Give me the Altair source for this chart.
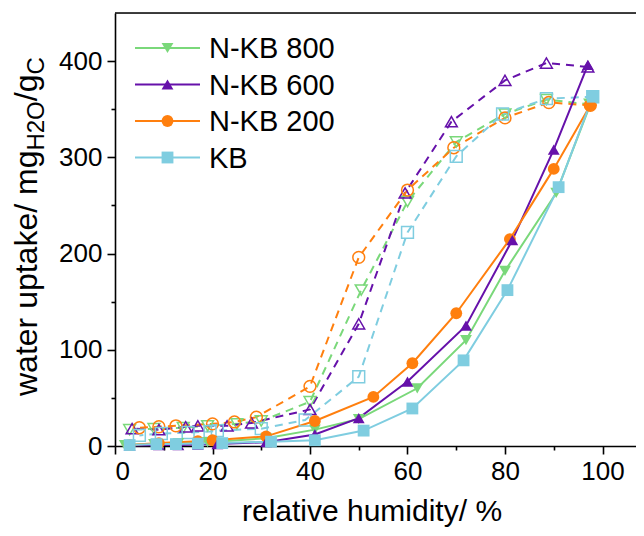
import altair as alt
import pandas as pd

# ---------------- data ----------------
samples = ["N-KB 800", "N-KB 600", "N-KB 200", "KB"]
colors = ["#7ad87a", "#6611aa", "#ff7f0e", "#7fcde0"]
shapes = ["triangle-down", "triangle-up", "circle", "square"]

kb800_ads_rh = [2, 8, 13, 19, 31, 41, 50, 62, 72, 80, 90.5, 97.5]
kb800_ads_up = [1, 2, 3, 4, 8, 17, 28, 60, 110, 182, 263, 355]
kb800_des_rh = [97.5, 88.5, 80, 70, 60, 50.5, 40, 30, 25, 19, 14, 8, 3]
kb800_des_up = [355, 360, 345, 316, 254, 162, 46, 26, 23, 21, 19, 18, 17]

kb600_ads_rh = [3, 9, 13, 17, 21, 31, 41, 50, 60, 72, 81.5, 90, 97]
kb600_ads_up = [0.5, 1, 1, 1.5, 2, 4, 12, 29, 67, 125, 214, 308, 396]
kb600_des_rh = [97, 88.5, 80, 69, 59.5, 50, 40, 28, 23, 17, 14.5, 9, 3.5]
kb600_des_up = [394, 398, 380, 337, 263, 127, 38, 24, 21, 21, 20, 17, 18]

kb200_ads_rh = [3, 9, 17, 20, 31, 41, 53, 61, 70, 81, 90, 97.5]
kb200_ads_up = [1, 3, 5, 6, 10, 26, 51, 86, 138, 215, 288, 354]
kb200_des_rh = [97.5, 89, 80, 69.5, 60, 50, 40, 29, 24.5, 20, 12.5, 9, 5]
kb200_des_up = [354, 357, 341, 310, 266, 196, 62, 30, 25, 23, 21, 20, 19]

kb_ads_rh = [3, 8.5, 12.5, 17, 22, 32, 41, 51, 61, 71.5, 80.5, 91, 98]
kb_ads_up = [1, 2, 2, 2.5, 3, 4.5, 6, 16, 39, 89, 162, 269, 363]
kb_des_rh = [98, 88.5, 79.5, 70, 60, 50, 39, 30, 21, 19.5, 15, 9.5, 5]
kb_des_up = [363, 361, 345, 301, 222, 72, 27, 18, 16, 15, 14, 13, 11]

x_ticks = [0, 10, 20, 30, 40, 50, 60, 70, 80, 90, 100]
y_ticks = [0, 50, 100, 150, 200, 250, 300, 350, 400]

series = {
    "N-KB 800": (kb800_ads_rh, kb800_ads_up, kb800_des_rh, kb800_des_up),
    "N-KB 600": (kb600_ads_rh, kb600_ads_up, kb600_des_rh, kb600_des_up),
    "N-KB 200": (kb200_ads_rh, kb200_ads_up, kb200_des_rh, kb200_des_up),
    "KB": (kb_ads_rh, kb_ads_up, kb_des_rh, kb_des_up),
}

rows = []
for s, (arh, aup, drh, dup) in series.items():
    for i, (x, y) in enumerate(zip(arh, aup)):
        rows.append({"sample": s, "branch": "ads", "rh": x, "up": y, "idx": i})
    for i, (x, y) in enumerate(zip(drh, dup)):
        rows.append({"sample": s, "branch": "des", "rh": x, "up": y, "idx": i})
df = pd.DataFrame(rows)

# ---------------- layout ----------------
W, H = 521, 433
FONT = "Liberation Sans"
PX_PER_X = 4.875
x_max = W / PX_PER_X

xs = alt.Scale(domain=[0, x_max], nice=False, zero=False)
ys = alt.Scale(domain=[0, 450], nice=False, zero=False)
cs = alt.Scale(domain=samples, range=colors)
ss = alt.Scale(domain=samples, range=shapes)

x_axis = alt.Axis(
    values=x_ticks, title=None, grid=False,
    labelExpr="datum.value % 20 === 0 ? datum.label : ''",
    tickSize={"condition": {"test": "datum.value % 20 === 0", "value": 8}, "value": 4},
    labelFontSize=26, labelFont=FONT, labelColor="black", labelPadding=4,
    domainColor="black", domainWidth=1.6, tickColor="black", tickWidth=1.6,
)
y_axis = alt.Axis(
    values=y_ticks, title=None, grid=False,
    labelExpr="datum.value % 100 === 0 ? datum.label : ''",
    tickSize={"condition": {"test": "datum.value % 100 === 0", "value": 8}, "value": 4},
    labelFontSize=26, labelFont=FONT, labelColor="black", labelPadding=5,
    domainColor="black", domainWidth=1.6, tickColor="black", tickWidth=1.6,
)

base = alt.Chart(df).encode(
    x=alt.X("rh:Q", scale=xs, axis=x_axis),
    y=alt.Y("up:Q", scale=ys, axis=y_axis),
    color=alt.Color("sample:N", scale=cs, legend=None),
    order=alt.Order("idx:Q"),
)

lines_des = base.transform_filter("datum.branch === 'des'").mark_line(
    strokeWidth=2, strokeDash=[8, 6]
).encode(detail="sample:N")
lines_ads = base.transform_filter("datum.branch === 'ads'").mark_line(
    strokeWidth=2
).encode(detail="sample:N")
pts_des = base.transform_filter("datum.branch === 'des'").mark_point(
    filled=False, strokeWidth=1.5, opacity=1, size=140
).encode(shape=alt.Shape("sample:N", scale=ss, legend=None))
pts_ads = base.transform_filter("datum.branch === 'ads'").mark_point(
    filled=True, opacity=1, size=140
).encode(shape=alt.Shape("sample:N", scale=ss, legend=None))

# top frame line
top_line = alt.Chart(pd.DataFrame({"a": [0]})).mark_rule(
    color="black", strokeWidth=1.6
).encode(x=alt.value(0), x2=alt.value(W), y=alt.value(0))

# legend (manual, inside plot area)
legend_layers = []
leg_y0, leg_dy = 35, 36.5
for i, s in enumerate(samples):
    yy = leg_y0 + i * leg_dy
    one = pd.DataFrame({"label": [s]})
    legend_layers.append(
        alt.Chart(one).mark_rule(color=colors[i], strokeWidth=2).encode(
            x=alt.value(20), x2=alt.value(85), y=alt.value(yy))
    )
    legend_layers.append(
        alt.Chart(one).mark_point(shape=shapes[i], filled=True, opacity=1,
                                  size=140, color=colors[i]).encode(
            x=alt.value(52.5), y=alt.value(yy))
    )
    legend_layers.append(
        alt.Chart(one).mark_text(align="left", baseline="middle", fontSize=29,
                                 font=FONT, color="black").encode(
            x=alt.value(94), y=alt.value(yy + 1), text="label:N")
    )

# axis titles as text (y title needs subscripts)
AW = {"w": 722, "a": 556, "t": 278, "e": 556, "r": 333, " ": 278, "u": 556,
      "p": 556, "k": 500, "/": 278, "m": 833, "g": 556, "H": 722, "2": 556,
      "O": 778, "C": 722}


def tw(s, size):
    return sum(AW[c] for c in s) / 1000 * size


OX, OY = 115, 13  # page position of plot origin
big, small = 32, 24
pieces = [("water uptake/ mg", big, 37), ("H2O", small, 44),
          ("/g", big, 37), ("C", small, 44)]
start = 396
title_layers = []
for txt, fs, bx in pieces:
    title_layers.append(
        alt.Chart(pd.DataFrame({"t": [txt]})).mark_text(
            align="left", baseline="alphabetic", angle=270, fontSize=fs,
            font=FONT, color="black").encode(
            x=alt.value(bx - OX), y=alt.value(start - OY), text="t:N")
    )
    start -= tw(txt, fs)

title_layers.append(
    alt.Chart(pd.DataFrame({"t": ["relative humidity/ %"]})).mark_text(
        align="center", baseline="alphabetic", fontSize=30, font=FONT,
        color="black").encode(
        x=alt.value(372 - OX), y=alt.value(521 - OY), text="t:N")
)

chart = alt.layer(
    lines_des, lines_ads, pts_des, pts_ads, top_line,
    *legend_layers, *title_layers
).properties(
    width=W, height=H,
    autosize=alt.AutoSizeParams(type="none"),
    padding={"left": OX - 8, "top": OY - 8, "right": 0, "bottom": 82},
).configure_view(stroke=None).configure(background="white")

chart.save("out.html", embed_options={"renderer": "svg", "actions": False})
